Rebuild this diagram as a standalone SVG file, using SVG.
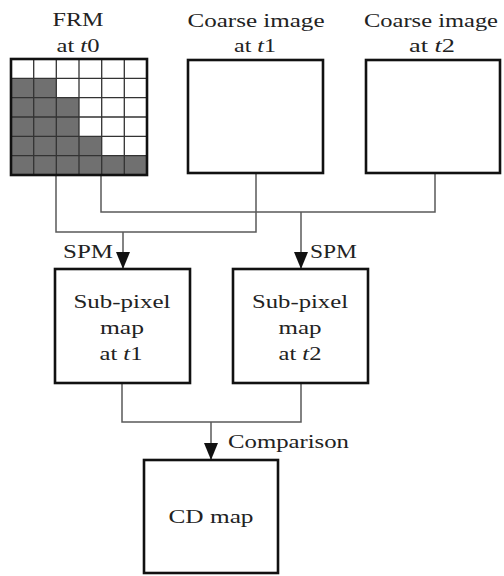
<svg xmlns="http://www.w3.org/2000/svg" width="504" height="576" viewBox="0 0 504 576">
  <style>
    .box { fill: #ffffff; stroke: #111111; stroke-width: 2.6; }
    .grid { stroke: #333333; stroke-width: 1.3; fill: none; }
    .wire { fill: none; stroke: #5a5a5a; stroke-width: 1.5; }
    .lbl { font-family: "Liberation Serif", "Times New Roman", serif; font-size: 19px; fill: #222222; text-anchor: middle; }
    .lbl-l { font-family: "Liberation Serif", "Times New Roman", serif; font-size: 19px; fill: #222222; }
    .it { font-style: italic; }
  </style>
  <defs>
    <marker id="arrow" markerUnits="userSpaceOnUse" markerWidth="18" markerHeight="14" refX="17" refY="7" orient="auto">
      <path d="M0,0 L17,7 L0,14 Z" fill="#111111"/>
    </marker>
  </defs>
  <rect width="504" height="576" fill="#ffffff"/>

  <!-- connectors -->
  <g id="connectors">
    <!-- FRM + coarse t1 -> SPM t1 -->
    <path class="wire" d="M56,175 V232 H256 V173"/>
    <path class="wire" d="M123,232 V269" marker-end="url(#arrow)"/>
    <!-- FRM + coarse t2 -> SPM t2 -->
    <path class="wire" d="M101,175 V212 H435 V173"/>
    <path class="wire" d="M301,212 V269" marker-end="url(#arrow)"/>
    <!-- sub-pixel maps -> CD map -->
    <path class="wire" d="M122,383 V422 H301 V383"/>
    <path class="wire" d="M211,422 V460" marker-end="url(#arrow)"/>
    <text class="lbl-l" x="63" y="258" textLength="50" lengthAdjust="spacingAndGlyphs">SPM</text>
    <text class="lbl-l" x="310" y="258" textLength="47" lengthAdjust="spacingAndGlyphs">SPM</text>
    <text class="lbl-l" x="228" y="448" textLength="121" lengthAdjust="spacingAndGlyphs">Comparison</text>
  </g>

  <!-- fraction map at t0 -->
  <g id="frm">
    <text class="lbl" x="78" y="26" textLength="51" lengthAdjust="spacingAndGlyphs">FRM</text>
    <text class="lbl" x="78" y="52" textLength="43" lengthAdjust="spacingAndGlyphs">at <tspan class="it">t</tspan>0</text>
    <rect x="11" y="59" width="136" height="116" fill="#ffffff"/>
    <path d="M11,78.3 H56.3 V97.7 H79 V136.3 H101.7 V155.7 H147 V175 H11 Z" fill="#707070"/>
    <path class="grid" d="M33.7,59 V175 M56.3,59 V175 M79,59 V175 M101.7,59 V175 M124.3,59 V175 M11,78.3 H147 M11,97.7 H147 M11,117 H147 M11,136.3 H147 M11,155.7 H147"/>
    <rect x="11" y="59" width="136" height="116" fill="none" stroke="#111111" stroke-width="2.6"/>
  </g>

  <g id="coarse-t1">
    <text class="lbl" x="256" y="27" textLength="137" lengthAdjust="spacingAndGlyphs">Coarse image</text>
    <text class="lbl" x="255" y="52" textLength="42" lengthAdjust="spacingAndGlyphs">at <tspan class="it">t</tspan>1</text>
    <rect class="box" x="188" y="60" width="135" height="113"/>
  </g>

  <g id="coarse-t2">
    <text class="lbl" x="431" y="27" textLength="134" lengthAdjust="spacingAndGlyphs">Coarse image</text>
    <text class="lbl" x="432" y="52" textLength="46" lengthAdjust="spacingAndGlyphs">at <tspan class="it">t</tspan>2</text>
    <rect class="box" x="366" y="60" width="134" height="113"/>
  </g>

  <g id="subpixel-t1">
    <rect class="box" x="55" y="269" width="135" height="114"/>
    <text class="lbl" x="122" y="308" textLength="97" lengthAdjust="spacingAndGlyphs">Sub-pixel</text>
    <text class="lbl" x="122" y="334" textLength="44" lengthAdjust="spacingAndGlyphs">map</text>
    <text class="lbl" x="121" y="360" textLength="43" lengthAdjust="spacingAndGlyphs">at <tspan class="it">t</tspan>1</text>
  </g>

  <g id="subpixel-t2">
    <rect class="box" x="233" y="269" width="135" height="114"/>
    <text class="lbl" x="300" y="308" textLength="96" lengthAdjust="spacingAndGlyphs">Sub-pixel</text>
    <text class="lbl" x="300" y="334" textLength="43" lengthAdjust="spacingAndGlyphs">map</text>
    <text class="lbl" x="300" y="360" textLength="43" lengthAdjust="spacingAndGlyphs">at <tspan class="it">t</tspan>2</text>
  </g>

  <g id="cd-map">
    <rect class="box" x="144" y="460" width="134" height="113"/>
    <text class="lbl" x="211" y="523" textLength="85" lengthAdjust="spacingAndGlyphs">CD map</text>
  </g>
</svg>
